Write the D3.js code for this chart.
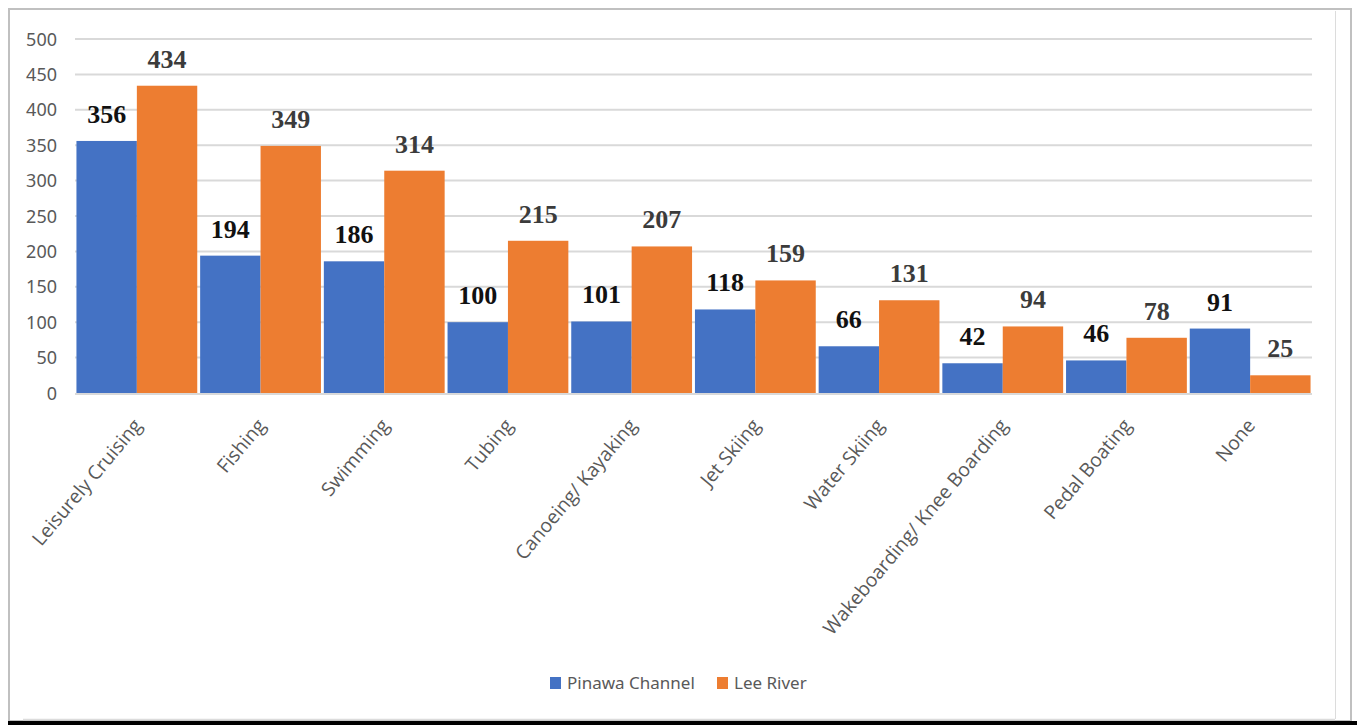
<!DOCTYPE html>
<html>
<head>
<meta charset="utf-8">
<script src="https://cdn.jsdelivr.net/npm/d3@7"></script>
<style>
  html, body { margin: 0; padding: 0; background: #fff; }
  svg { display: block; }
</style>
</head>
<body>
<svg id="chart" width="1357" height="725"></svg>
<script>
// Activities and counts per location
const categories = ["Leisurely Cruising", "Fishing", "Swimming", "Tubing", "Canoeing/ Kayaking",
  "Jet Skiing", "Water Skiing", "Wakeboarding/ Knee Boarding", "Pedal Boating", "None"];
const seriesNames = ["Pinawa Channel", "Lee River"];
const pinawa = [356, 194, 186, 100, 101, 118, 66, 42, 46, 91];
const leeRiver = [434, 349, 314, 215, 207, 159, 131, 94, 78, 25];
const yTicks = [0, 50, 100, 150, 200, 250, 300, 350, 400, 450, 500];

const colors = ["#4472C4", "#ED7D31"];
const labelColors = ["#111111", "#3b3b3b"];
const seriesValues = [pinawa, leeRiver];

const svg = d3.select("#chart");
const W = 1357, H = 725;

// frame
svg.append("rect").attr("x", 9).attr("y", 9).attr("width", 1342).attr("height", 712)
  .attr("fill", "none").attr("stroke", "#c0c0c0").attr("stroke-width", 2);
svg.append("line").attr("x1", 1335.5).attr("x2", 1335.5).attr("y1", 11).attr("y2", 719)
  .attr("stroke", "#dcdcdc").attr("stroke-width", 1);
svg.append("line").attr("x1", 23).attr("x2", 1335).attr("y1", 719.5).attr("y2", 719.5)
  .attr("stroke", "#dcdcdc").attr("stroke-width", 1.5);
svg.append("rect").attr("x", 8).attr("y", 721).attr("width", W - 8).attr("height", 4).attr("fill", "#000");

const plot = { left: 75, right: 1312, top: 39, bottom: 393 };

const x0 = d3.scaleBand().domain(categories).range([plot.left, plot.right]).paddingInner(0).paddingOuter(0);
const x1 = d3.scaleBand().domain(seriesNames).range([0, x0.bandwidth()]).paddingOuter(0.024).paddingInner(0);
const y = d3.scaleLinear().domain([0, 500]).range([plot.bottom, plot.top]);

// gridlines
svg.append("g").selectAll("line").data(yTicks.filter(d => d > 0)).join("line")
  .attr("x1", plot.left).attr("x2", plot.right)
  .attr("y1", d => y(d)).attr("y2", d => y(d))
  .attr("stroke", "#d9d9d9").attr("stroke-width", 2);

// y axis labels
const yAxis = d3.axisLeft(y).tickValues(yTicks).tickSize(0).tickPadding(0);
const yg = svg.append("g").attr("transform", `translate(57,0)`).call(yAxis);
yg.select(".domain").remove();
yg.selectAll("text").attr("font-family", "'Noto Sans', sans-serif").attr("font-size", 18)
  .attr("fill", "#595959").attr("dy", "0.34em");

// bars
const groups = svg.append("g").selectAll("g").data(categories).join("g")
  .attr("transform", d => `translate(${x0(d)},0)`);

groups.selectAll("rect").data((d, i) => seriesNames.map((s, j) => ({ s, j, v: seriesValues[j][i] })))
  .join("rect")
  .attr("x", d => x1(d.s))
  .attr("width", x1.bandwidth())
  .attr("y", d => y(d.v))
  .attr("height", d => y(0) - y(d.v))
  .attr("fill", d => colors[d.j]);

// baseline
svg.append("line").attr("x1", plot.left).attr("x2", plot.right)
  .attr("y1", plot.bottom + 1).attr("y2", plot.bottom + 1)
  .attr("stroke", "#d9d9d9").attr("stroke-width", 2);

// value labels
groups.selectAll("text.val").data((d, i) => seriesNames.map((s, j) => ({ s, j, v: seriesValues[j][i] })))
  .join("text").attr("class", "val")
  .attr("x", d => x1(d.s) + x1.bandwidth() / 2)
  .attr("y", d => y(d.v) - 18)
  .attr("text-anchor", "middle")
  .attr("font-family", "'Liberation Serif', 'DejaVu Serif', serif")
  .attr("font-weight", "bold").attr("font-size", 26)
  .attr("fill", d => labelColors[d.j])
  .text(d => d.v);

// category labels
svg.append("g").selectAll("text").data(categories).join("text")
  .attr("transform", d => `translate(${x0(d) + x0.bandwidth() / 2 + 6},${plot.bottom + 33}) rotate(-50)`)
  .attr("text-anchor", "end")
  .attr("font-family", "'Open Sans', sans-serif").attr("font-size", 19.3)
  .attr("fill", "#595959")
  .text(d => d);

// legend
const legend = svg.append("g");
const legendItems = [
  { name: seriesNames[0], color: colors[0], x: 550 },
  { name: seriesNames[1], color: colors[1], x: 717 }
];
legendItems.forEach(it => {
  legend.append("rect").attr("x", it.x).attr("y", 677).attr("width", 11).attr("height", 12).attr("fill", it.color);
  legend.append("text").attr("x", it.x + 17).attr("y", 689)
    .attr("font-family", "'Noto Sans', sans-serif").attr("font-size", 17)
    .attr("fill", "#595959").text(it.name);
});
</script>
</body>
</html>
